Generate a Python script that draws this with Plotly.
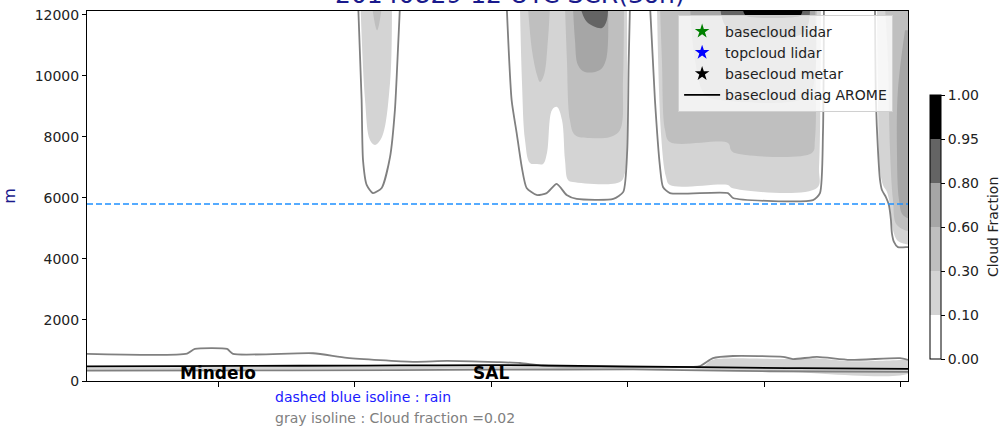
import plotly.graph_objects as go

# ---------------- data (distance along transect in grid points, height in m) ----------------
levels = [0.0, 0.10, 0.30, 0.60, 0.80, 0.95, 1.00]
level_labels = ["0.00", "0.10", "0.30", "0.60", "0.80", "0.95", "1.00"]
level_colors = ["#ffffff", "#d4d4d4", "#bfbfbf", "#a6a6a6", "#646464", "#000000"]

x_ticks = [96, 196, 296, 396, 496, 596]
y_ticks = [0, 2000, 4000, 6000, 8000, 10000, 12000]
stations = ["Mindelo", "SAL"]
station_x = [96, 296]

rain_x = [0, 601.5]
rain_h = [5800, 5800]

# AROME diagnosed cloud base
arome_x = [0, 68, 156, 229, 302.6, 346.5, 390.5, 449, 522, 601.5]
arome_h = [480, 490, 500, 510, 520, 505, 480, 455, 420, 400]

# observations (none available on this transect)
lidar_base_x, lidar_base_h = [None], [None]
lidar_top_x, lidar_top_h = [None], [None]
metar_base_x, metar_base_h = [None], [None]

# cloud fraction = 0.02 isolines
iso_low_top_x = [0, 73.3, 79.1, 102.6, 107, 165.6, 190.5, 238.8, 263.7, 300.4, 317.2, 334.1,
                 375.8, 424.9, 449.1, 458.6, 473.3, 509.9, 517.2, 534.8, 559, 595.6, 601.5]
iso_low_top_h = [890, 900, 1050, 1050, 890, 910, 760, 630, 660, 620, 590, 500,
                 470, 460, 490, 750, 820, 790, 720, 790, 690, 750, 690]
iso_low_bot_x = [0, 150, 300, 400, 450, 500, 601.5]
iso_low_bot_h = [340, 350, 370, 380, 350, 320, 300]

colA_x = [198.7, 201.2, 202.2, 204.9, 209.5, 215.9, 222, 225.6, 227.8, 229.3]
colA_h = [12300, 9210, 7250, 6430, 6160, 6330, 7340, 8890, 10850, 12300]
colB_x = [307.5, 311.1, 314.8, 318.5, 322.1, 329.4, 336.8, 344.1, 351.4, 358.8, 385.6, 392.9,
          395.8, 396.8, 397.8]
colB_h = [12300, 9210, 8130, 7020, 6330, 6100, 6160, 6460, 6100, 5970, 5970, 6200,
          7570, 10300, 12300]
colC_x = [412.5, 416.1, 419.8, 422, 427.1, 469.6, 473.3, 531.9, 537, 539.2, 539.9]
colC_h = [12300, 9210, 7020, 6360, 6160, 6160, 6000, 5930, 6160, 8130, 12300]
colD_x = [577.3, 578, 579.5, 581, 582.4, 585.3, 587.5, 589, 589.7, 591.2, 594.1, 601.5, 605]
colD_h = [12300, 9210, 7570, 6590, 6260, 6030, 5770, 5280, 4850, 4560, 4390, 4390, 4390]

# filled cloud-fraction areas
low_f1_x = [0, 150, 300, 400, 450, 458, 470, 510, 535, 560, 601.5, 605,
            605, 500, 450, 400, 300, 150, 0]
low_f1_h = [440, 460, 480, 470, 450, 690, 740, 720, 740, 650, 700, 700,
            310, 330, 370, 400, 400, 380, 360]
colA_f1_x = [200.4, 203.7, 207.3, 211, 216.1, 222, 223.4]
colA_f1_h = [12300, 9210, 7900, 7740, 8000, 9770, 12300]
colA_f2_x = [208.8, 212.5, 216.1]
colA_f2_h = [12300, 11500, 12300]
colB_f1_x = [317.2, 318.7, 320.9, 324.5, 329.7, 334.1, 337, 340.7, 344.3, 348, 350.2, 352.4,
             356, 390.5, 394.1, 395.6, 395.6]
colB_f1_h = [12300, 9770, 7900, 7150, 7115, 7115, 7475, 8885, 8984, 8557, 7246, 6590,
             6525, 6525, 6820, 9213, 12300]
colB_f2a_x = [323, 326, 329.7, 331.9, 334.8, 337.7, 339.2]
colB_f2a_h = [12300, 10850, 10030, 9800, 10030, 11180, 12300]
colB_f2b_x = [350.2, 351.6, 353.8, 357.5, 368.5, 383.2, 390.5, 392.7, 393.4]
colB_f2b_h = [12300, 10525, 8557, 8066, 7967, 8000, 8230, 9869, 12300]
colB_f3_x = [356, 357.5, 359.7, 364.8, 375.8, 380.2, 381.7]
colB_f3_h = [12300, 11180, 10361, 10131, 10197, 10525, 12300]
colB_f4_x = [361.2, 366.3, 377.3, 380.9, 381.7]
colB_f4_h = [12300, 11770, 11574, 11836, 12300]
colC_f1_x = [417.6, 420.5, 424.2, 427.1, 469.6, 472.5, 534.8, 536.3, 537.7]
colC_f1_h = [12300, 8131, 6689, 6426, 6426, 6328, 6328, 7016, 12300]
colC_f2_x = [419.8, 421.2, 423.5, 427.1, 469.6, 471.8, 474.7, 531.1, 533.3, 534.1, 534.8]
colC_f2_h = [12300, 10525, 8230, 7836, 7803, 7574, 7475, 7475, 7902, 10525, 12300]
colC_f3_x = [441.8, 445.4, 452.7, 463.7, 522.3, 531.1, 533.3]
colC_f3_h = [12300, 10525, 9377, 9213, 9213, 9541, 12300]
colC_f4_x = [463.7, 467.4, 478.4, 522.3, 528.2, 529.7]
colC_f4_h = [12300, 11672, 11344, 11344, 11672, 12300]
colC_f5_x = [479.9, 482.1, 485.7, 518.7, 523.1, 524.5]
colC_f5_h = [12300, 12000, 11934, 11934, 12000, 12300]
colD_f1_x = [578.8, 579.5, 581, 583.2, 586.1, 588.3, 590.5, 593.4, 597, 605, 605]
colD_f1_h = [12300, 9213, 6918, 6426, 6197, 5770, 4951, 4623, 4525, 4525, 12300]
colD_f2_x = [584.6, 586.8, 588.3, 590.5, 593.4, 605, 605]
colD_f2_h = [12300, 10525, 7574, 5934, 5115, 4951, 12300]
colD_f3_x = [599.3, 594.1, 593.4, 594.9, 597.8, 605, 605]
colD_f3_h = [11500, 9540, 7570, 5930, 5440, 5340, 11500]

areas = [
    (low_f1_x, low_f1_h, 1), (colA_f1_x, colA_f1_h, 1), (colB_f1_x, colB_f1_h, 1),
    (colC_f1_x, colC_f1_h, 1), (colD_f1_x, colD_f1_h, 1),
    (colA_f2_x, colA_f2_h, 2), (colB_f2a_x, colB_f2a_h, 2), (colB_f2b_x, colB_f2b_h, 2),
    (colC_f2_x, colC_f2_h, 2), (colD_f2_x, colD_f2_h, 2),
    (colB_f3_x, colB_f3_h, 3), (colC_f3_x, colC_f3_h, 3), (colD_f3_x, colD_f3_h, 3),
    (colB_f4_x, colB_f4_h, 4), (colC_f4_x, colC_f4_h, 4),
    (colC_f5_x, colC_f5_h, 5),
]
isolines = [(iso_low_top_x, iso_low_top_h), (iso_low_bot_x, iso_low_bot_h),
            (colA_x, colA_h), (colB_x, colB_h), (colC_x, colC_h), (colD_x, colD_h)]

FONT = "DejaVu Sans"
fig = go.Figure()

for ax, ah, lev in areas:
    fig.add_trace(go.Scatter(x=ax, y=ah, mode="lines", fill="toself",
                             fillcolor=level_colors[lev], line=dict(width=0, shape="spline"),
                             showlegend=False, hoverinfo="skip"))

for ix, ih in isolines:
    fig.add_trace(go.Scatter(x=ix, y=ih, mode="lines",
                             line=dict(color="#808080", width=1.8, shape="spline", smoothing=0.6),
                             showlegend=False, hoverinfo="skip"))

fig.add_trace(go.Scatter(x=rain_x, y=rain_h, mode="lines",
                         line=dict(color="#1e90ff", width=1.5, dash="6px,3px"),
                         showlegend=False, hoverinfo="skip"))

fig.add_trace(go.Scatter(x=lidar_base_x, y=lidar_base_h, mode="markers", name="basecloud lidar",
                         marker=dict(symbol="star", color="green", size=11)))
fig.add_trace(go.Scatter(x=lidar_top_x, y=lidar_top_h, mode="markers", name="topcloud lidar",
                         marker=dict(symbol="star", color="blue", size=11)))
fig.add_trace(go.Scatter(x=metar_base_x, y=metar_base_h, mode="markers", name="basecloud metar",
                         marker=dict(symbol="star", color="black", size=11)))
fig.add_trace(go.Scatter(x=arome_x, y=arome_h, mode="lines", name="basecloud diag AROME",
                         line=dict(color="black", width=1.8, shape="spline")))

# colour bar (levels shown equally spaced, as in the original)
nlev = len(level_colors)
cscale = []
for i, c in enumerate(level_colors):
    cscale.append([i / nlev, c])
    cscale.append([(i + 1) / nlev, c])
fig.add_trace(go.Scatter(
    x=[None], y=[None], mode="markers", showlegend=False, hoverinfo="skip",
    marker=dict(color=[0], cmin=0, cmax=nlev, colorscale=cscale, showscale=True,
                colorbar=dict(
                    tickvals=list(range(nlev + 1)), ticktext=level_labels,
                    thickness=11, thicknessmode="pixels", len=264, lenmode="pixels",
                    x=1.0268, xanchor="left", y=0.416, yanchor="middle", xpad=0, ypad=0,
                    outlinecolor="black", outlinewidth=1, ticks="outside", ticklen=4,
                    tickcolor="black", tickfont=dict(family=FONT, size=14, color="#222")))))

fig.update_layout(
    width=1005, height=427,
    margin=dict(l=87, r=97, t=11, b=46, autoexpand=False),
    paper_bgcolor="white", plot_bgcolor="white",
    font=dict(family=FONT, size=14, color="#222"),
    showlegend=True,
    legend=dict(x=0.72, y=0.99, xanchor="left", yanchor="top", itemwidth=36,
                bgcolor="rgba(255,255,255,0.8)", bordercolor="#d0d0d0", borderwidth=1,
                font=dict(family=FONT, size=14, color="#222"), tracegroupgap=0),
    xaxis=dict(range=[0, 601.5], tickvals=x_ticks, ticktext=[""] * len(x_ticks),
               ticks="outside", ticklen=5, tickcolor="black", showgrid=False, zeroline=False,
               showline=True, linecolor="black", linewidth=1, mirror=True, automargin=False),
    yaxis=dict(range=[0, 12130], tickvals=y_ticks, ticktext=[str(v) for v in y_ticks],
               ticks="outside", ticklen=4,
               tickcolor="black", showgrid=False, zeroline=False, showline=True,
               linecolor="black", linewidth=1, mirror=True, automargin=False,
               title=dict(text="m", font=dict(family=FONT, size=16, color="#1a1a8c"),
                          standoff=18)),
)

for name, sx in zip(stations, station_x):
    fig.add_annotation(x=sx, y=0, xref="x", yref="y", text="<b>%s</b>" % name, showarrow=False,
                       yanchor="bottom", xanchor="center", yshift=-4,
                       font=dict(family=FONT, size=17, color="black"))

fig.add_annotation(x=0.2266, y=-0.043, xref="paper", yref="paper", xanchor="left",
                   yanchor="middle", showarrow=False, text="dashed blue isoline : rain",
                   font=dict(family=FONT, size=14, color="#1a1aff"))
fig.add_annotation(x=0.2266, y=-0.10, xref="paper", yref="paper", xanchor="left",
                   yanchor="middle", showarrow=False, text="gray isoline : Cloud fraction =0.02",
                   font=dict(family=FONT, size=14, color="#808080"))
fig.add_annotation(x=1.1035, y=0.416, xref="paper", yref="paper", xanchor="center",
                   yanchor="middle", showarrow=False, text="Cloud Fraction", textangle=-90,
                   font=dict(family=FONT, size=14, color="#222"))
fig.add_annotation(x=0.515, y=1, xref="paper", yref="paper", xanchor="center", yanchor="bottom",
                   showarrow=False, text="20140829 12 UTC SCR(3on)", yshift=0,
                   font=dict(family=FONT, size=25, color="#1a1a8c"))

fig.write_html("out.html", post_script="document.body.style.margin='0px';",
               config={"displayModeBar": False})
